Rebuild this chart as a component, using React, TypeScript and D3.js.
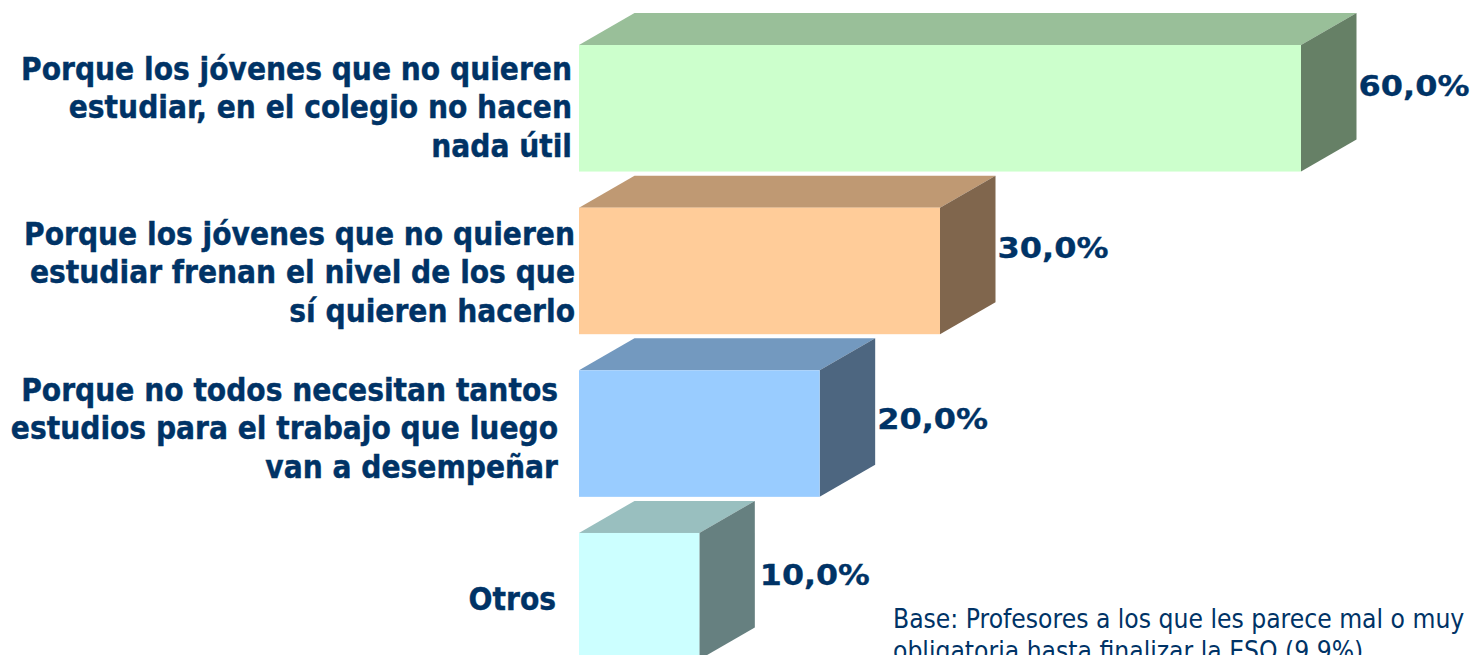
import React from 'react';
import * as d3 from 'd3';

const categories = ['a', 'b', 'c', 'd'];
const values = [60, 30, 20, 10];
const valueLabels = ['60,0%', '30,0%', '20,0%', '10,0%'];
const labelLines = [
  ['Porque los jóvenes que no quieren', 'estudiar, en el colegio no hacen', 'nada útil'],
  ['Porque los jóvenes que no quieren', 'estudiar frenan el nivel de los que', 'sí quieren hacerlo'],
  ['Porque no todos necesitan tantos', 'estudios para el trabajo que luego', 'van a desempeñar'],
  ['Otros'],
];
const baseLines = [
  'Base: Profesores a los que les parece mal o muy',
  'obligatoria hasta finalizar la ESO (9,9%)',
];
const faceColors = ['#ccffcc', '#ffcc99', '#99ccff', '#ccffff'];

const width = 1472;
const height = 655;
const depthX = 55.5;
const depthY = 32;
const navy = '#003366';
const labelFont = '"DejaVu Sans Condensed", "DejaVu Sans", sans-serif';

// the source chart places these by hand, they don't follow the bars exactly
const labelRight = [572, 575, 558, 556];
const labelBaseline = [79.5, 244.5, 400.5, 609.5];
const valueBaseline = [96, 258, 429, 585];
const valueGap = [2, 2, 2, 5];

const x = d3.scaleLinear().domain([0, 60]).range([579, 1301]);
const y = d3.scaleBand().domain(categories).range([45, 659.5]).paddingInner(0.222).paddingOuter(0);

const polygon = (pts: [number, number][]) => d3.line()(pts) + 'Z';

const shade = (color: string, k: number) => {
  const c = d3.rgb(color);
  return d3.rgb(c.r * k, c.g * k, c.b * k).formatHex();
};

export default function App() {
  return (
    <svg
      width={width}
      height={height}
      style={{ position: 'absolute', left: 0, top: 0, background: '#fff' }}
    >
      {categories.map((c, i) => {
        const x0 = x(0);
        const x1 = x(values[i]);
        const y0 = y(c) as number;
        const y1 = y0 + y.bandwidth();
        return (
          <g key={c}>
            <path
              d={polygon([[x0, y0], [x0 + depthX, y0 - depthY], [x1 + depthX, y0 - depthY], [x1, y0]])}
              fill={shade(faceColors[i], 0.75)}
            />
            <path
              d={polygon([[x1, y0], [x1 + depthX, y0 - depthY], [x1 + depthX, y1 - depthY], [x1, y1]])}
              fill={shade(faceColors[i], 0.5)}
            />
            <rect x={x0} y={y0} width={x1 - x0} height={y1 - y0} fill={faceColors[i]} />
            <text
              x={x1 + depthX + valueGap[i]}
              y={valueBaseline[i]}
              fill={navy}
              stroke={navy}
              strokeWidth={0.3}
              fontFamily="'DejaVu Sans', sans-serif"
              fontWeight="bold"
              fontSize={27.5}
              textLength={i === 3 ? 110 : 111}
              lengthAdjust="spacingAndGlyphs"
            >
              {valueLabels[i]}
            </text>
            {labelLines[i].map((line, j) => (
              <text
                key={j}
                x={labelRight[i]}
                y={labelBaseline[i] + j * 38.5}
                textAnchor="end"
                fill={navy}
                stroke={navy}
                strokeWidth={0.4}
                fontFamily={labelFont}
                fontWeight="bold"
                fontSize={31.3}
              >
                {line}
              </text>
            ))}
          </g>
        );
      })}
      {baseLines.map((line, j) => (
        <text
          key={j}
          x={893}
          y={628 + j * 32}
          fill={navy}
          fontFamily={labelFont}
          fontSize={26.2}
        >
          {line}
        </text>
      ))}
    </svg>
  );
}
